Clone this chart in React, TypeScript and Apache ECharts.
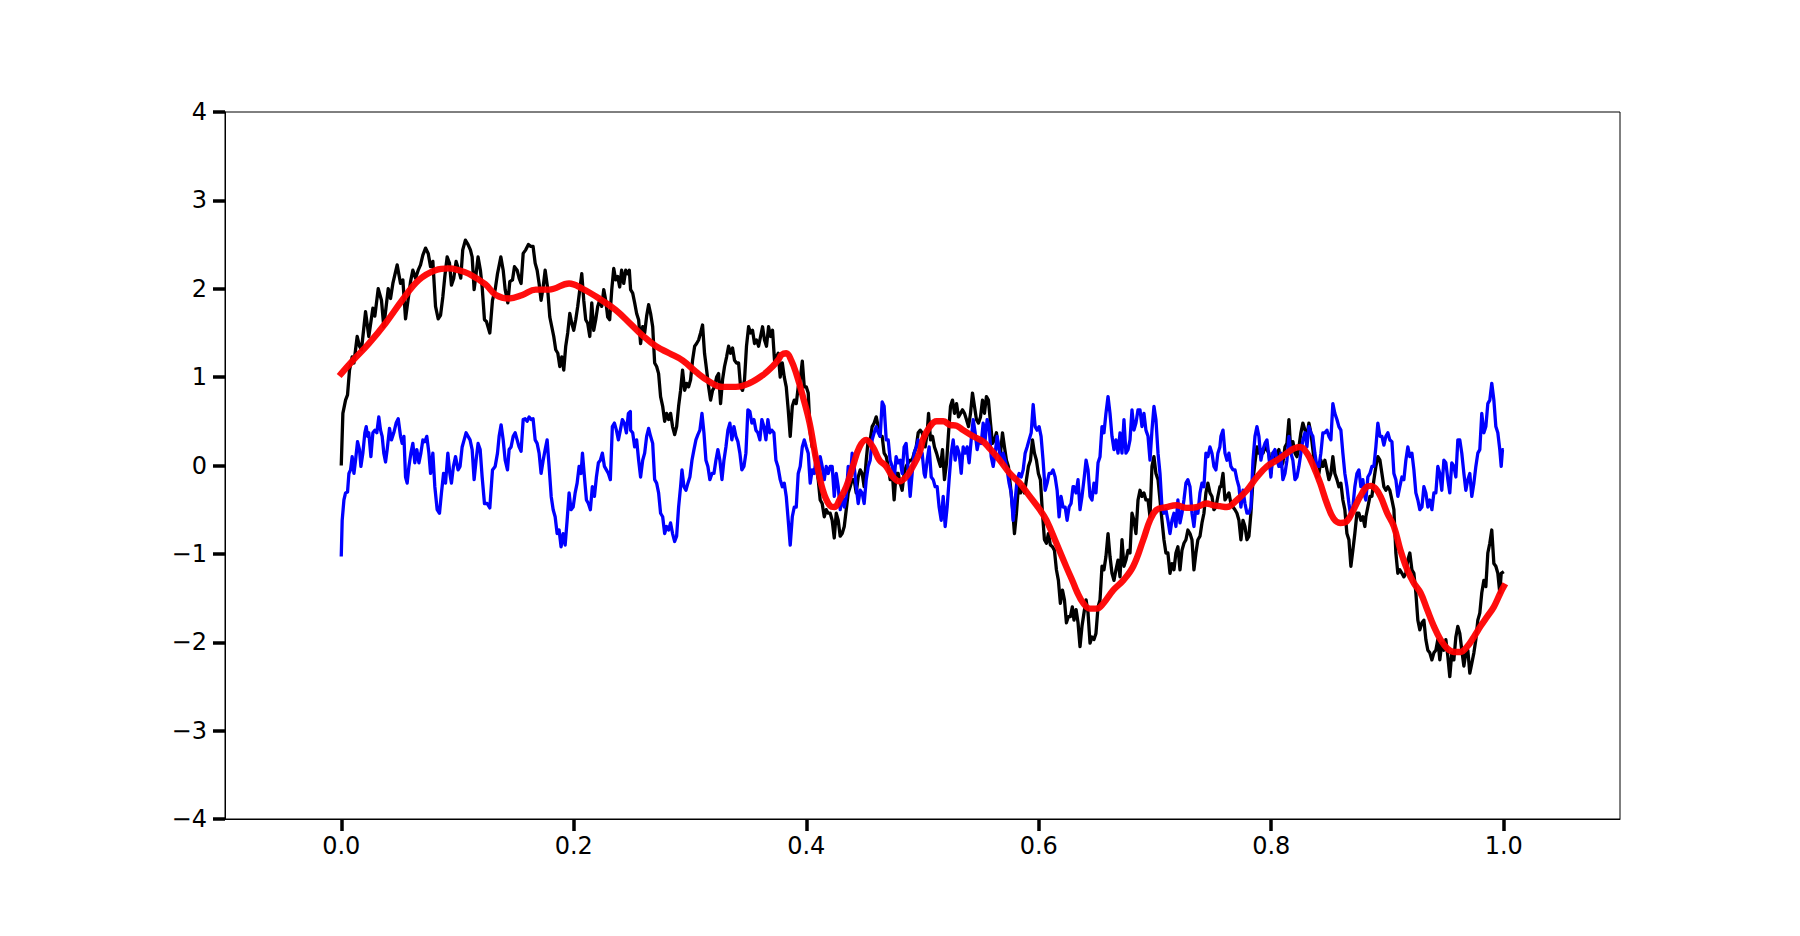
import React, { useEffect, useRef } from "react";
import * as echarts from "echarts";

const X_TICKS = [0.0, 0.2, 0.4, 0.6, 0.8, 1.0];
const Y_TICKS = [-4, -3, -2, -1, 0, 1, 2, 3, 4];

const blackPath: [number, number][] = [
[0.000,0.00],[0.0014,0.59],[0.0037,0.74],[0.0054,0.80],[0.0071,1.08],[0.0094,1.23],[0.0109,1.16],[0.0137,1.46],[0.0157,1.35],[0.0174,1.31],[0.0209,1.74],[0.0237,1.46],[0.0272,1.78],[0.0289,1.69],[0.0318,2.00],[0.0346,1.87],[0.0366,1.57],[0.0404,2.00],[0.0424,1.89],[0.0444,2.06],[0.0481,2.27],[0.0510,2.06],[0.0530,2.10],[0.0553,1.66],[0.0567,1.80],[0.0596,2.08],[0.0616,2.21],[0.0639,2.12],[0.0662,2.21],[0.0682,2.27],[0.0702,2.38],[0.0725,2.46],[0.0748,2.40],[0.0768,2.25],[0.0788,2.31],[0.0811,1.80],[0.0834,1.66],[0.0854,1.70],[0.0874,1.91],[0.0891,2.14],[0.0911,2.36],[0.0931,2.29],[0.0948,2.04],[0.0968,2.12],[0.0988,2.31],[0.1011,2.21],[0.1028,2.12],[0.1045,2.44],[0.1068,2.55],[0.1091,2.50],[0.1111,2.44],[0.1126,2.36],[0.1143,1.99],[0.1160,2.17],[0.1177,2.36],[0.1197,2.21],[0.1212,2.02],[0.1232,1.65],
[0.1249,1.63],[0.1278,1.50],[0.1301,1.87],[0.1324,1.99],[0.1344,2.17],[0.1373,2.36],[0.1393,2.21],[0.1410,1.99],[0.1433,1.84],[0.1450,2.08],[0.1473,2.10],[0.1490,2.25],[0.1513,2.21],[0.1530,2.12],[0.1547,2.06],[0.1565,2.40],[0.1587,2.44],[0.1610,2.50],[0.1630,2.48],[0.1650,2.48],[0.1668,2.29],[0.1685,2.21],[0.1702,2.06],[0.1719,1.87],[0.1737,2.02],[0.1754,2.21],[0.1774,2.02],[0.1794,1.68],[0.1811,1.57],[0.1828,1.46],[0.1845,1.31],[0.1863,1.27],[0.1880,1.12],[0.1897,1.23],[0.1914,1.08],[0.1931,1.35],[0.1948,1.50],[0.1966,1.72],[0.1983,1.61],[0.2000,1.53],[0.2017,1.65],[0.2034,1.80],[0.2052,1.99],[0.2069,2.17],[0.2086,1.87],[0.2103,1.65],[0.2120,1.61],[0.2138,1.46],[0.2155,1.84],[0.2172,1.53],[0.2189,1.65],[0.2206,1.80],[0.2223,1.87],[0.2241,1.80],[0.2258,1.99],[0.2275,1.87],[0.2292,1.68],[0.2309,1.65],[0.2327,1.99],[0.2344,2.23],[0.2361,2.10],[0.2378,2.14],[0.2395,2.02],[0.2412,2.21],[0.2430,2.06],[0.2447,2.21],[0.2464,2.17],[0.2478,2.21],
[0.2489,1.99],[0.2507,1.95],[0.2524,1.84],[0.2541,1.72],[0.2558,1.65],[0.2575,1.38],[0.2593,1.57],[0.2610,1.50],[0.2627,1.69],[0.2644,1.82],[0.2661,1.72],[0.2679,1.57],[0.2696,1.16],[0.2713,1.12],[0.2730,1.04],[0.2747,0.78],[0.2765,0.67],[0.2782,0.50],[0.2799,0.59],[0.2816,0.52],[0.2833,0.59],[0.2850,0.44],[0.2868,0.35],[0.2885,0.44],[0.2902,0.67],[0.2919,0.85],[0.2936,1.08],[0.2954,0.85],[0.2971,0.93],[0.2988,0.89],[0.3005,0.97],[0.3022,1.19],[0.3040,1.35],[0.3057,1.38],[0.3074,1.42],[0.3091,1.50],[0.3108,1.59],[0.3125,1.27],[0.3143,1.08],[0.3160,0.89],[0.3177,0.74],[0.3194,0.85],[0.3211,0.89],[0.3229,1.00],[0.3246,1.04],[0.3263,0.70],[0.3280,0.97],[0.3297,1.12],[0.3315,1.23],[0.3332,1.35],[0.3349,1.27],[0.3366,1.33],[0.3383,1.19],[0.3400,1.16],[0.3418,1.16],[0.3435,0.89],[0.3452,0.85],[0.3469,0.97],[0.3486,1.35],[0.3504,1.57],[0.3521,1.50],[0.3538,1.53],[0.3555,1.38],[0.3572,1.42],[0.3590,1.35],[0.3607,1.46],[0.3624,1.57],[0.3641,1.42],[0.3658,1.35],[0.3676,1.57],[0.3693,1.46],[0.3710,1.53],[0.3727,1.19],[0.3744,1.23],
[0.3759,1.27],[0.3776,1.00],[0.3794,1.16],[0.3811,1.00],[0.3828,0.89],[0.3845,0.63],[0.3862,0.33],[0.3880,0.67],[0.3897,0.74],[0.3914,0.70],[0.3931,0.89],[0.3948,0.97],[0.3966,1.18],[0.3983,0.89],[0.4000,0.89],[0.4017,0.82],[0.4034,0.37],[0.4051,0.21],[0.4069,0.18],[0.4086,-0.01],[0.4103,-0.16],[0.4120,-0.39],[0.4137,-0.43],[0.4155,-0.58],[0.4172,-0.50],[0.4189,-0.54],[0.4206,-0.54],[0.4223,-0.62],[0.4241,-0.82],[0.4258,-0.54],[0.4275,-0.62],[0.4292,-0.80],[0.4309,-0.77],[0.4327,-0.69],[0.4344,-0.50],[0.4361,-0.31],[0.4378,-0.24],[0.4395,-0.16],[0.4412,-0.16],[0.4430,-0.31],[0.4447,-0.13],[0.4464,-0.05],[0.4481,-0.09],[0.4498,-0.24],[0.4516,0.06],[0.4533,0.29],[0.4550,0.29],[0.4567,0.44],[0.4584,0.48],[0.4602,0.55],[0.4619,0.44],[0.4636,0.33],[0.4653,0.33],[0.4670,0.14],[0.4688,0.10],[0.4705,-0.01],[0.4722,-0.16],[0.4739,-0.05],[0.4756,-0.39],[0.4773,-0.09],[0.4791,-0.09],[0.4808,-0.20],[0.4825,-0.28],[0.4842,-0.09],[0.4859,-0.01],[0.4877,0.03],[0.4894,0.06],[0.4911,0.06],[0.4928,0.14],[0.4946,0.21],[0.4963,0.37],[0.4980,0.40],[0.4997,0.37],[0.5014,0.29],
[0.5023,0.21],[0.5040,0.37],[0.5052,0.59],[0.5069,0.29],[0.5086,0.33],[0.5103,0.21],[0.5121,0.14],[0.5138,0.06],[0.5155,-0.01],[0.5172,0.18],[0.5189,-0.16],[0.5207,0.03],[0.5224,0.37],[0.5241,0.67],[0.5258,0.74],[0.5275,0.59],[0.5293,0.70],[0.5310,0.55],[0.5327,0.59],[0.5344,0.63],[0.5361,0.59],[0.5378,0.52],[0.5396,0.44],[0.5413,0.59],[0.5430,0.82],[0.5447,0.67],[0.5464,0.52],[0.5482,0.48],[0.5499,0.55],[0.5516,0.74],[0.5533,0.59],[0.5550,0.78],[0.5567,0.74],[0.5585,0.48],[0.5602,0.25],[0.5619,0.29],[0.5636,0.37],[0.5653,0.21],[0.5671,0.14],[0.5688,0.37],[0.5705,0.21],[0.5722,0.06],[0.5739,-0.01],[0.5757,-0.24],[0.5774,-0.47],[0.5791,-0.77],[0.5808,-0.54],[0.5825,-0.24],[0.5843,-0.31],[0.5860,-0.24],[0.5877,-0.31],[0.5894,-0.16],[0.5911,-0.01],[0.5929,0.06],[0.5946,0.29],[0.5963,0.14],[0.5980,0.06],[0.5997,-0.09],[0.6014,-0.16],[0.6032,-0.54],[0.6049,-0.84],[0.6066,-0.88],[0.6083,-0.77],[0.6100,-0.90],[0.6118,-0.92],[0.6135,-0.96],[0.6152,-1.18],[0.6169,-1.30],[0.6186,-1.56],[0.6204,-1.41],[0.6221,-1.52],[0.6238,-1.78],[0.6255,-1.71],[0.6272,-1.71],[0.6289,-1.60],
[0.6303,-1.75],[0.6321,-1.63],[0.6338,-1.78],[0.6355,-2.05],[0.6372,-1.82],[0.6389,-1.67],[0.6407,-1.52],[0.6424,-1.67],[0.6441,-2.01],[0.6458,-1.94],[0.6475,-1.97],[0.6492,-1.90],[0.6510,-1.60],[0.6527,-1.52],[0.6544,-1.14],[0.6561,-1.18],[0.6578,-1.03],[0.6596,-0.77],[0.6613,-1.03],[0.6630,-1.22],[0.6647,-1.30],[0.6664,-1.18],[0.6682,-1.07],[0.6699,-1.26],[0.6716,-0.84],[0.6733,-1.14],[0.6750,-1.07],[0.6768,-0.96],[0.6785,-0.99],[0.6802,-0.54],[0.6819,-0.62],[0.6836,-0.77],[0.6854,-0.39],[0.6871,-0.28],[0.6888,-0.35],[0.6905,-0.31],[0.6922,-0.39],[0.6940,-0.39],[0.6957,-0.58],[0.6974,-0.01],[0.6991,0.10],[0.7008,-0.09],[0.7026,-0.16],[0.7043,-0.39],[0.7060,-0.62],[0.7077,-0.84],[0.7094,-0.99],[0.7111,-0.99],[0.7129,-1.22],[0.7146,-1.11],[0.7163,-1.18],[0.7180,-0.99],[0.7197,-0.92],[0.7215,-1.18],[0.7232,-0.96],[0.7249,-0.88],[0.7266,-0.84],[0.7283,-0.73],[0.7301,-0.77],[0.7318,-0.84],[0.7335,-1.18],[0.7352,-0.99],[0.7369,-0.84],[0.7387,-0.80],[0.7404,-0.65],[0.7421,-0.54],[0.7438,-0.31],[0.7455,-0.20],[0.7473,-0.31],[0.7490,-0.35],[0.7507,-0.50],[0.7524,-0.47],[0.7541,-0.35],[0.7558,-0.24],
[0.7567,-0.24],[0.7585,-0.09],[0.7602,-0.39],[0.7619,-0.35],[0.7636,-0.31],[0.7653,-0.43],[0.7671,-0.47],[0.7688,-0.50],[0.7705,-0.54],[0.7722,-0.62],[0.7739,-0.84],[0.7757,-0.62],[0.7774,-0.69],[0.7791,-0.84],[0.7808,-0.80],[0.7825,-0.54],[0.7843,-0.16],[0.7860,0.03],[0.7877,0.21],[0.7894,0.14],[0.7911,0.18],[0.7929,0.14],[0.7946,0.21],[0.7963,0.18],[0.7980,0.14],[0.7997,-0.09],[0.8014,0.14],[0.8032,0.06],[0.8049,0.14],[0.8066,0.18],[0.8083,-0.01],[0.8100,0.03],[0.8118,0.21],[0.8135,0.25],[0.8152,0.52],[0.8169,0.14],[0.8186,0.27],[0.8204,0.14],[0.8221,0.10],[0.8238,0.21],[0.8255,0.37],[0.8272,0.48],[0.8290,0.40],[0.8307,0.33],[0.8324,0.48],[0.8341,0.37],[0.8358,0.18],[0.8375,-0.01],[0.8393,-0.13],[0.8410,-0.09],[0.8427,0.06],[0.8444,-0.01],[0.8461,0.06],[0.8479,-0.05],[0.8496,-0.16],[0.8513,-0.09],[0.8530,0.10],[0.8547,-0.09],[0.8565,-0.16],[0.8582,-0.24],[0.8599,-0.20],[0.8616,-0.39],[0.8633,-0.50],[0.8651,-0.77],[0.8668,-0.84],[0.8685,-1.14],[0.8702,-0.96],[0.8719,-0.77],[0.8737,-0.54],[0.8754,-0.54],[0.8771,-0.62],[0.8788,-0.58],[0.8805,-0.69],
[0.8814,-0.58],[0.8831,-0.47],[0.8849,-0.35],[0.8866,-0.35],[0.8883,-0.16],[0.8900,-0.01],[0.8917,0.10],[0.8935,0.06],[0.8952,-0.09],[0.8969,-0.24],[0.8986,-0.28],[0.9003,-0.24],[0.9020,-0.28],[0.9038,-0.39],[0.9055,-0.50],[0.9072,-0.99],[0.9089,-1.22],[0.9106,-1.18],[0.9124,-1.22],[0.9141,-1.26],[0.9158,-1.22],[0.9175,-1.07],[0.9192,-0.99],[0.9210,-1.18],[0.9227,-1.22],[0.9244,-1.44],[0.9261,-1.75],[0.9278,-1.86],[0.9296,-1.78],[0.9313,-1.75],[0.9330,-1.97],[0.9347,-2.09],[0.9364,-2.12],[0.9382,-2.20],[0.9399,-2.12],[0.9416,-2.09],[0.9433,-1.97],[0.9450,-2.20],[0.9467,-2.01],[0.9485,-2.09],[0.9502,-1.97],[0.9519,-2.16],[0.9536,-2.39],[0.9553,-2.12],[0.9571,-2.20],[0.9588,-1.94],[0.9605,-1.82],[0.9622,-1.90],[0.9639,-2.09],[0.9657,-2.27],[0.9674,-2.12],[0.9691,-2.09],[0.9708,-2.35],[0.9725,-2.24],[0.9743,-2.12],[0.9760,-1.97],[0.9777,-1.75],[0.9794,-1.67],[0.9811,-1.44],[0.9829,-1.30],[0.9846,-1.37],[0.9863,-0.99],[0.9880,-0.88],[0.9897,-0.73],[0.9915,-1.11],[0.9932,-1.14],[0.9949,-1.22],[0.9966,-1.44],[0.9978,-1.22],[1.0,-1.20]
];

const bluePath: [number, number][] = [
[0.000,-1.03],[0.0008,-0.62],[0.0023,-0.39],[0.0037,-0.31],[0.0054,-0.30],[0.0066,-0.09],[0.0080,-0.05],[0.0094,0.10],[0.0109,-0.09],[0.0123,0.06],[0.0140,0.27],[0.0157,0.18],[0.0169,-0.01],[0.0186,0.14],[0.0203,0.37],[0.0215,0.44],[0.0226,0.33],[0.0237,0.37],[0.0255,0.10],[0.0272,0.37],[0.0289,0.40],[0.0306,0.37],[0.0323,0.55],[0.0338,0.40],[0.0352,0.33],[0.0366,0.14],[0.0381,0.04],[0.0395,0.18],[0.0415,0.42],[0.0432,0.29],[0.0452,0.37],[0.0472,0.48],[0.0490,0.53],[0.0510,0.33],[0.0524,0.25],[0.0539,0.33],[0.0553,-0.13],[0.0567,-0.20],[0.0582,-0.01],[0.0599,0.14],[0.0616,0.25],[0.0633,0.03],[0.0650,0.18],[0.0668,0.03],[0.0685,0.14],[0.0702,0.29],[0.0719,0.27],[0.0736,0.33],[0.0754,0.14],[0.0768,-0.09],[0.0788,0.14],[0.0805,-0.24],[0.0825,-0.50],[0.0845,-0.54],[0.0862,-0.31],[0.0880,-0.09],[0.0897,-0.20],[0.0917,0.14],[0.0934,-0.09],[0.0948,-0.20],[0.0965,-0.01],[0.0983,0.10],[0.1005,-0.05],[0.1022,-0.01],[0.1040,0.21],[0.1057,0.29],[0.1074,0.37],[0.1091,0.33],[0.1108,0.29],[0.1126,0.18],[0.1143,-0.16],[0.1160,0.06],[0.1177,0.25],[0.1195,0.18],[0.1212,-0.13],[0.1232,-0.43],
[0.1255,-0.43],[0.1278,-0.48],[0.1301,-0.05],[0.1324,-0.01],[0.1344,0.14],[0.1358,0.33],[0.1375,0.46],[0.1393,0.29],[0.1410,0.06],[0.1430,-0.05],[0.1444,0.18],[0.1461,0.21],[0.1479,0.33],[0.1496,0.37],[0.1513,0.29],[0.1530,0.21],[0.1547,0.16],[0.1565,0.52],[0.1582,0.53],[0.1599,0.50],[0.1616,0.55],[0.1633,0.52],[0.1650,0.53],[0.1668,0.29],[0.1685,0.25],[0.1702,0.14],[0.1719,-0.09],[0.1737,0.06],[0.1754,0.18],[0.1771,0.29],[0.1788,-0.01],[0.1806,-0.35],[0.1823,-0.50],[0.1840,-0.58],[0.1857,-0.77],[0.1874,-0.73],[0.1891,-0.92],[0.1909,-0.77],[0.1926,-0.90],[0.1943,-0.62],[0.1960,-0.31],[0.1977,-0.50],[0.1995,-0.47],[0.2012,-0.31],[0.2029,-0.20],[0.2046,-0.01],[0.2063,-0.09],[0.2075,0.14],[0.2092,-0.13],[0.2109,-0.39],[0.2126,-0.43],[0.2143,-0.50],[0.2160,-0.24],[0.2178,-0.35],[0.2195,-0.13],[0.2212,0.03],[0.2229,0.06],[0.2246,0.14],[0.2264,-0.01],[0.2281,-0.05],[0.2298,-0.09],[0.2315,-0.16],[0.2332,0.44],[0.2350,0.48],[0.2367,0.40],[0.2384,0.29],[0.2401,0.40],[0.2418,0.52],[0.2435,0.48],[0.2453,0.37],[0.2470,0.59],[0.2487,0.61],
[0.2489,0.40],[0.2507,0.37],[0.2524,0.21],[0.2541,0.29],[0.2558,0.06],[0.2575,-0.13],[0.2593,0.06],[0.2610,0.14],[0.2627,0.33],[0.2644,0.42],[0.2661,0.33],[0.2679,0.25],[0.2696,-0.16],[0.2713,-0.20],[0.2730,-0.31],[0.2747,-0.54],[0.2765,-0.58],[0.2782,-0.77],[0.2799,-0.69],[0.2816,-0.73],[0.2833,-0.65],[0.2850,-0.77],[0.2868,-0.86],[0.2885,-0.80],[0.2902,-0.47],[0.2919,-0.24],[0.2931,-0.05],[0.2948,-0.24],[0.2965,-0.28],[0.2982,-0.20],[0.2999,-0.13],[0.3017,0.06],[0.3034,0.18],[0.3051,0.29],[0.3068,0.35],[0.3085,0.40],[0.3103,0.59],[0.3120,0.37],[0.3137,0.06],[0.3154,-0.01],[0.3171,-0.16],[0.3189,-0.09],[0.3206,-0.09],[0.3223,0.06],[0.3240,0.18],[0.3257,0.06],[0.3275,-0.16],[0.3292,0.06],[0.3309,0.21],[0.3326,0.40],[0.3343,0.48],[0.3360,0.29],[0.3378,0.44],[0.3395,0.33],[0.3412,0.27],[0.3429,0.14],[0.3446,-0.05],[0.3464,-0.01],[0.3481,0.14],[0.3498,0.63],[0.3515,0.61],[0.3532,0.48],[0.3550,0.52],[0.3567,0.40],[0.3584,0.37],[0.3601,0.29],[0.3618,0.52],[0.3636,0.44],[0.3653,0.29],[0.3670,0.52],[0.3687,0.37],[0.3704,0.40],[0.3722,0.37],[0.3739,0.06],[0.3756,-0.01],
[0.3776,-0.16],[0.3794,-0.24],[0.3811,-0.20],[0.3828,-0.35],[0.3845,-0.62],[0.3862,-0.90],[0.3880,-0.58],[0.3897,-0.47],[0.3914,-0.47],[0.3931,-0.09],[0.3948,-0.01],[0.3966,0.21],[0.3983,0.29],[0.4000,0.21],[0.4017,0.14],[0.4034,-0.20],[0.4051,-0.05],[0.4069,-0.09],[0.4086,0.10],[0.4103,-0.09],[0.4120,0.10],[0.4137,-0.01],[0.4155,-0.16],[0.4172,-0.01],[0.4189,-0.09],[0.4206,-0.01],[0.4223,-0.01],[0.4241,-0.35],[0.4258,-0.09],[0.4275,-0.24],[0.4292,-0.50],[0.4309,-0.35],[0.4327,-0.47],[0.4344,-0.35],[0.4361,-0.01],[0.4378,-0.16],[0.4395,0.14],[0.4412,-0.01],[0.4430,-0.24],[0.4447,-0.43],[0.4464,-0.28],[0.4481,-0.31],[0.4498,-0.43],[0.4516,-0.16],[0.4533,-0.01],[0.4550,0.06],[0.4567,0.29],[0.4584,0.37],[0.4602,0.44],[0.4619,0.37],[0.4636,0.33],[0.4653,0.72],[0.4670,0.67],[0.4688,0.29],[0.4705,0.29],[0.4722,0.06],[0.4739,-0.01],[0.4756,-0.16],[0.4773,0.10],[0.4791,0.03],[0.4808,0.06],[0.4825,-0.09],[0.4842,0.21],[0.4859,0.25],[0.4877,-0.05],[0.4894,-0.35],[0.4911,-0.09],[0.4928,0.14],[0.4946,0.21],[0.4963,0.29],[0.4980,0.14],[0.4997,0.14],[0.5014,-0.09],
[0.5023,-0.13],[0.5040,0.06],[0.5057,0.21],[0.5075,-0.13],[0.5092,-0.16],[0.5109,-0.24],[0.5126,-0.24],[0.5143,-0.47],[0.5161,-0.62],[0.5178,-0.35],[0.5195,-0.69],[0.5212,-0.47],[0.5229,-0.16],[0.5247,0.14],[0.5264,0.29],[0.5281,0.06],[0.5298,0.21],[0.5315,0.14],[0.5333,-0.09],[0.5350,0.21],[0.5367,0.14],[0.5384,0.21],[0.5401,0.03],[0.5419,0.29],[0.5436,0.52],[0.5453,0.37],[0.5470,0.18],[0.5487,0.29],[0.5505,0.25],[0.5522,0.48],[0.5539,0.29],[0.5556,0.52],[0.5573,0.44],[0.5591,0.10],[0.5608,-0.01],[0.5625,0.14],[0.5642,0.33],[0.5659,0.18],[0.5677,0.03],[0.5694,0.14],[0.5711,0.06],[0.5728,-0.05],[0.5745,-0.20],[0.5763,-0.31],[0.5780,-0.62],[0.5797,-0.39],[0.5814,-0.16],[0.5831,-0.09],[0.5849,-0.13],[0.5866,-0.05],[0.5883,0.14],[0.5900,0.21],[0.5917,0.29],[0.5935,0.37],[0.5952,0.69],[0.5969,0.44],[0.5986,0.40],[0.6003,0.44],[0.6020,0.33],[0.6037,0.06],[0.6055,-0.28],[0.6072,-0.20],[0.6089,-0.09],[0.6106,-0.09],[0.6123,-0.05],[0.6141,-0.13],[0.6158,-0.28],[0.6175,-0.58],[0.6192,-0.35],[0.6209,-0.47],[0.6227,-0.47],[0.6244,-0.62],[0.6261,-0.47],[0.6278,-0.43],[0.6295,-0.24],
[0.6303,-0.24],[0.6321,-0.31],[0.6338,-0.16],[0.6355,-0.50],[0.6372,-0.35],[0.6389,-0.16],[0.6407,0.06],[0.6424,-0.05],[0.6441,-0.35],[0.6458,-0.39],[0.6475,-0.20],[0.6492,-0.31],[0.6510,0.03],[0.6527,0.10],[0.6544,0.44],[0.6561,0.37],[0.6578,0.59],[0.6596,0.78],[0.6613,0.59],[0.6630,0.33],[0.6647,0.18],[0.6664,0.29],[0.6682,0.14],[0.6699,0.37],[0.6716,0.14],[0.6733,0.52],[0.6750,0.14],[0.6768,0.18],[0.6785,0.29],[0.6802,0.63],[0.6819,0.40],[0.6836,0.48],[0.6854,0.63],[0.6871,0.63],[0.6888,0.44],[0.6905,0.59],[0.6922,0.40],[0.6940,0.33],[0.6957,0.06],[0.6974,0.40],[0.6991,0.67],[0.7008,0.52],[0.7026,0.14],[0.7043,-0.09],[0.7060,-0.47],[0.7077,-0.54],[0.7094,-0.50],[0.7111,-0.62],[0.7129,-0.77],[0.7146,-0.62],[0.7163,-0.54],[0.7180,-0.69],[0.7197,-0.39],[0.7215,-0.65],[0.7232,-0.54],[0.7249,-0.39],[0.7266,-0.20],[0.7283,-0.16],[0.7301,-0.24],[0.7318,-0.54],[0.7335,-0.69],[0.7352,-0.47],[0.7369,-0.54],[0.7387,-0.31],[0.7404,-0.20],[0.7421,-0.24],[0.7438,0.14],[0.7455,0.10],[0.7473,0.21],[0.7490,0.14],[0.7507,-0.01],[0.7524,-0.05],[0.7541,0.14],[0.7558,0.21],
[0.7567,0.33],[0.7585,0.40],[0.7602,0.14],[0.7619,0.06],[0.7636,0.14],[0.7653,-0.01],[0.7671,-0.05],[0.7688,-0.05],[0.7705,-0.16],[0.7722,-0.24],[0.7739,-0.47],[0.7757,-0.28],[0.7774,-0.43],[0.7791,-0.54],[0.7808,-0.54],[0.7825,-0.47],[0.7843,0.06],[0.7860,0.33],[0.7877,0.44],[0.7894,0.33],[0.7911,0.06],[0.7929,0.18],[0.7946,0.25],[0.7963,0.29],[0.7980,0.10],[0.7997,-0.13],[0.8014,0.14],[0.8032,0.18],[0.8049,0.06],[0.8066,-0.01],[0.8083,0.14],[0.8100,-0.16],[0.8118,-0.09],[0.8135,0.06],[0.8152,0.33],[0.8169,0.14],[0.8186,0.06],[0.8204,-0.16],[0.8221,-0.13],[0.8238,-0.01],[0.8255,0.14],[0.8272,0.29],[0.8290,0.37],[0.8307,0.21],[0.8324,0.44],[0.8341,0.37],[0.8358,0.33],[0.8375,0.14],[0.8393,-0.01],[0.8410,-0.01],[0.8427,0.14],[0.8444,0.37],[0.8461,0.37],[0.8479,0.40],[0.8496,0.33],[0.8513,0.29],[0.8530,0.70],[0.8547,0.59],[0.8565,0.52],[0.8582,0.44],[0.8599,0.40],[0.8616,0.14],[0.8633,-0.09],[0.8651,-0.24],[0.8668,-0.43],[0.8685,-0.58],[0.8702,-0.47],[0.8719,-0.24],[0.8737,-0.09],[0.8754,-0.05],[0.8771,-0.24],[0.8788,-0.16],[0.8805,-0.35],
[0.8814,-0.39],[0.8831,-0.13],[0.8849,-0.09],[0.8866,-0.01],[0.8883,-0.01],[0.8900,0.21],[0.8917,0.48],[0.8935,0.33],[0.8952,0.33],[0.8969,0.23],[0.8986,0.33],[0.9003,0.37],[0.9020,0.29],[0.9038,0.27],[0.9055,-0.09],[0.9072,-0.16],[0.9089,-0.35],[0.9106,-0.24],[0.9124,-0.13],[0.9141,-0.16],[0.9158,0.06],[0.9175,0.21],[0.9192,0.10],[0.9210,0.14],[0.9227,-0.05],[0.9244,-0.31],[0.9261,-0.39],[0.9278,-0.50],[0.9296,-0.47],[0.9313,-0.24],[0.9330,-0.31],[0.9347,-0.47],[0.9364,-0.39],[0.9382,-0.50],[0.9399,-0.31],[0.9416,-0.31],[0.9433,-0.01],[0.9450,-0.09],[0.9467,-0.28],[0.9485,0.06],[0.9502,0.03],[0.9519,-0.16],[0.9536,-0.31],[0.9553,0.03],[0.9571,-0.01],[0.9588,-0.13],[0.9605,0.29],[0.9622,0.29],[0.9639,0.14],[0.9657,-0.09],[0.9674,-0.28],[0.9691,-0.16],[0.9708,-0.09],[0.9725,-0.35],[0.9743,-0.20],[0.9760,-0.01],[0.9777,0.14],[0.9794,0.18],[0.9811,0.59],[0.9829,0.37],[0.9846,0.44],[0.9863,0.70],[0.9880,0.74],[0.9897,0.93],[0.9915,0.74],[0.9932,0.44],[0.9949,0.37],[0.9966,0.18],[0.9978,-0.01],[0.9989,0.18],[1.0,0.18]
];

const redSmooth: [number, number][] = [
[0.000,1.04],[0.0094,1.18],[0.0237,1.38],[0.0381,1.61],[0.0524,1.87],[0.0668,2.10],[0.0811,2.21],[0.0925,2.23],[0.1011,2.21],[0.1097,2.17],[0.1240,2.05],[0.1330,1.93],[0.1444,1.89],[0.1559,1.93],[0.1673,1.99],[0.1788,1.99],[0.1960,2.06],[0.2075,2.00],[0.2218,1.89],[0.2361,1.76],[0.2490,1.60],[0.2593,1.47],[0.2707,1.35],[0.2822,1.27],[0.2936,1.19],[0.3051,1.06],[0.3166,0.95],[0.3280,0.89],[0.3395,0.89],[0.3510,0.93],[0.3624,1.02],[0.3710,1.12],[0.3767,1.21],[0.3785,1.25],[0.3828,1.27],[0.3871,1.19],[0.3914,1.04],[0.3971,0.78],[0.4029,0.48],[0.4086,0.06],[0.4143,-0.28],[0.4200,-0.45],[0.4243,-0.47],[0.4286,-0.39],[0.4344,-0.24],[0.4401,-0.01],[0.4458,0.21],[0.4516,0.29],[0.4573,0.21],[0.4630,0.06],[0.4688,-0.01],[0.4745,-0.13],[0.4802,-0.18],[0.4859,-0.13],[0.4917,-0.01],[0.4974,0.14],[0.5006,0.30],[0.5063,0.44],[0.5121,0.50],[0.5178,0.50],[0.5235,0.46],[0.5293,0.45],[0.5350,0.40],[0.5436,0.33],[0.5522,0.27],[0.5579,0.19],[0.5665,0.06],[0.5751,-0.09],[0.5837,-0.20],[0.5923,-0.35],[0.6009,-0.50],[0.6066,-0.62],[0.6152,-0.88],[0.6238,-1.15],[0.6295,-1.32],[0.6326,-1.42],[0.6384,-1.56],[0.6441,-1.62],[0.6498,-1.62],[0.6556,-1.56],[0.6641,-1.41],[0.6727,-1.30],[0.6813,-1.14],[0.6899,-0.84],[0.6957,-0.62],[0.7014,-0.50],[0.7100,-0.47],[0.7186,-0.45],[0.7272,-0.48],[0.7358,-0.47],[0.7444,-0.43],[0.7501,-0.45],[0.7558,-0.46],[0.7619,-0.47],[0.7705,-0.39],[0.7791,-0.28],[0.7877,-0.13],[0.7963,-0.01],[0.8049,0.06],[0.8135,0.14],[0.8192,0.19],[0.8249,0.21],[0.8307,0.14],[0.8364,-0.01],[0.8421,-0.20],[0.8479,-0.43],[0.8536,-0.60],[0.8593,-0.65],[0.8651,-0.63],[0.8708,-0.50],[0.8765,-0.35],[0.8822,-0.24],[0.8854,-0.23],[0.8897,-0.26],[0.8940,-0.35],[0.8998,-0.54],[0.9055,-0.69],[0.9112,-0.96],[0.9170,-1.18],[0.9227,-1.33],[0.9284,-1.44],[0.9341,-1.63],[0.9399,-1.82],[0.9456,-1.97],[0.9513,-2.07],[0.9571,-2.11],[0.9628,-2.11],[0.9685,-2.05],[0.9743,-1.94],[0.9800,-1.82],[0.9857,-1.71],[0.9915,-1.60],[0.9972,-1.44],[1.0,-1.37]
];

const FONT = "DejaVu Sans";

function fmtY(v: number): string {
  return v < 0 ? "\u2212" + String(Math.abs(v)) : String(v);
}

export default function App() {
  const ref = useRef<HTMLDivElement>(null);
  useEffect(() => {
    if (!ref.current) return;
    const chart = echarts.init(ref.current, undefined, { renderer: "svg" });
    const axisCommon = {
      splitLine: { show: false },
      axisLine: { show: true, onZero: false, lineStyle: { color: "#000", width: 1 } },
    };
    chart.setOption({
      animation: false,
      backgroundColor: "#fff",
      grid: {
        left: 225, top: 112, width: 1395, height: 707,
        show: true, borderColor: "#000", borderWidth: 1, backgroundColor: "transparent",
      },
      xAxis: {
        type: "value", min: -0.1, max: 1.1,
        ...axisCommon,
        axisTick: { show: true, length: 12, customValues: X_TICKS, lineStyle: { color: "#000", width: 3.5 } },
        axisLabel: {
          show: true, customValues: X_TICKS, margin: 15,
          formatter: (v: number) => v.toFixed(1),
          fontSize: 24, fontFamily: FONT, color: "#000",
        },
      },
      yAxis: {
        type: "value", min: -4, max: 4, interval: 1,
        ...axisCommon,
        axisTick: { show: true, length: 12, customValues: Y_TICKS, lineStyle: { color: "#000", width: 3.5 } },
        axisLabel: {
          show: true, customValues: Y_TICKS, margin: 18,
          formatter: (v: number) => fmtY(v),
          fontSize: 24, fontFamily: FONT, color: "#000",
        },
      },
      series: [
        {
          type: "line", data: blackPath, showSymbol: false, symbol: "none", silent: true,
          lineStyle: { color: "#000000", width: 3.3, join: "round" }, z: 2,
        },
        {
          type: "line", data: bluePath, showSymbol: false, symbol: "none", silent: true,
          lineStyle: { color: "#0000ff", width: 3.3, join: "round" }, z: 3,
        },
        {
          type: "line", data: redSmooth, showSymbol: false, symbol: "none", silent: true, smooth: 0.4,
          lineStyle: { color: "#ff0000", width: 6.4, join: "round", cap: "square", opacity: 0.95 }, z: 4,
        },
      ],
    });
    return () => chart.dispose();
  }, []);
  return (
    <div
      ref={ref}
      style={{ position: "absolute", left: 0, top: 0, width: 1800, height: 936, background: "#fff" }}
    />
  );
}
